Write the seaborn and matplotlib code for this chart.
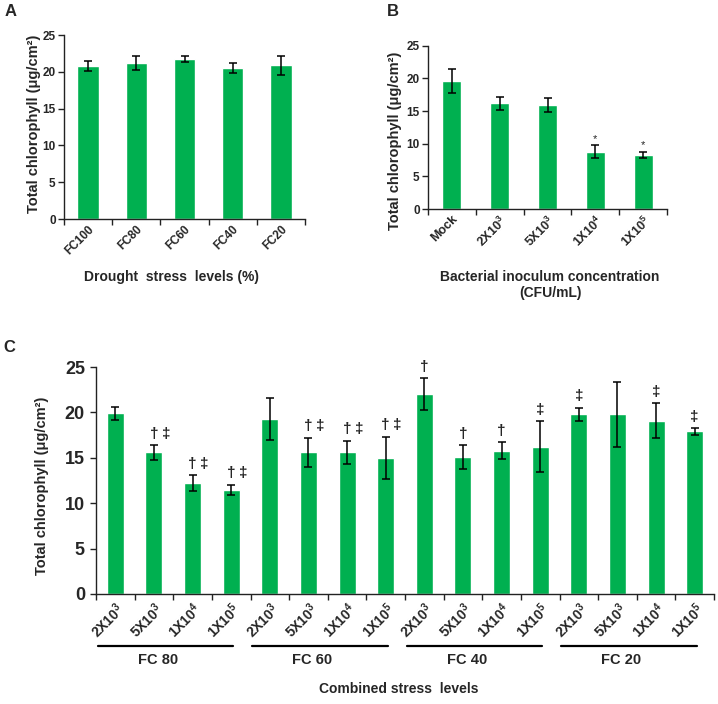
import numpy as np
import pandas as pd
import matplotlib
matplotlib.use("Agg")
import matplotlib.pyplot as plt
import seaborn as sns

# ---- data ----
drought_levels = ["FC100", "FC80", "FC60", "FC40", "FC20"]
drought_mean = [20.8, 21.2, 21.7, 20.5, 20.9]
drought_err = [0.7, 1.0, 0.4, 0.7, 1.3]

inoculum_levels = ["Mock", "2X10$^3$", "5X10$^3$", "1X10$^4$", "1X10$^5$"]
inoculum_mean = [19.6, 16.2, 15.9, 8.8, 8.3]
inoculum_err = [1.9, 1.0, 1.1, 1.0, 0.5]
inoculum_marks = ["", "", "", "*", "*"]

fc_groups = ["FC 80", "FC 60", "FC 40", "FC 20"]
conc_labels = ["2X10$^3$", "5X10$^3$", "1X10$^4$", "1X10$^5$"]
combined_mean = [19.9, 15.6, 12.2, 11.5,
                 19.3, 15.6, 15.6, 15.0,
                 22.0, 15.1, 15.8, 16.2,
                 19.8, 19.8, 19.1, 17.9]
combined_err = [0.7, 0.8, 0.9, 0.55,
                2.3, 1.6, 1.3, 2.3,
                1.75, 1.3, 0.9, 2.8,
                0.7, 3.6, 1.9, 0.35]
combined_marks = ["", "†‡", "†‡", "†‡",
                  "", "†‡", "†‡", "†‡",
                  "†", "†", "†", "‡",
                  "‡", "", "‡", "‡"]

GREEN = "#00B050"
W, H = 718, 704

sns.set_theme(style="ticks")
plt.rcParams["font.family"] = ["Liberation Sans", "DejaVu Sans"]
plt.rcParams["font.weight"] = "bold"
plt.rcParams["mathtext.default"] = "regular"
plt.rcParams["axes.edgecolor"] = "#222222"
plt.rcParams["axes.linewidth"] = 1.0

fig = plt.figure(figsize=(W / 100, H / 100), dpi=100)


def px(x, y):
    return x / W, 1 - y / H


def bar_panel(ax, labels, means, errs, width, tick_fs, ytick_fs):
    df = pd.DataFrame({"cat": labels, "val": means})
    sns.barplot(data=df, x="cat", y="val", color=GREEN, saturation=1,
                width=width, errorbar=None, ax=ax)
    ax.errorbar(np.arange(len(means)), means, yerr=errs, fmt="none",
                ecolor="black", elinewidth=1.1, capsize=3, capthick=1.1)
    n = len(means)
    ax.set_xlim(-0.5, n - 0.5)
    ax.set_ylim(0, 25)
    ax.set_yticks([0, 5, 10, 15, 20, 25])
    ax.set_xticks(np.arange(n + 1) - 0.5, minor=True)
    ax.tick_params(axis="x", which="major", length=0, pad=3)
    ax.tick_params(axis="x", which="minor", length=4, width=1, color="#222222")
    ax.tick_params(axis="y", length=4, width=1, color="#222222",
                   labelsize=ytick_fs, pad=2)
    ax.set_xticks(np.arange(n))
    ax.set_xticklabels(labels, rotation=45, ha="right",
                       rotation_mode="anchor", fontsize=tick_fs,
                       fontweight="bold")
    for t in ax.get_yticklabels():
        t.set_fontweight("bold")
    ax.set_xlabel("")
    ax.set_ylabel("")
    sns.despine(ax=ax)


ylab = "Total chlorophyll (μg/cm²)"

# ---- panel A ----
axA = fig.add_axes([64 / W, 1 - 219 / H, 241 / W, 184 / H])
bar_panel(axA, drought_levels, drought_mean, drought_err, 0.44, 8.5, 8.5)
fig.text(*px(34, 124), ylab, rotation=90, ha="center", va="center",
         fontsize=10.5, fontweight="bold")
fig.text(*px(172, 277), "Drought  stress  levels (%)", ha="center",
         va="center", fontsize=10, fontweight="bold")
fig.text(*px(11, 11), "A", ha="center", va="center", fontsize=12,
         fontweight="bold")

# ---- panel B ----
axB = fig.add_axes([428 / W, 1 - 209 / H, 239 / W, 163.3 / H])
bar_panel(axB, inoculum_levels, inoculum_mean, inoculum_err, 0.40, 9, 8.5)
for i, m in enumerate(inoculum_marks):
    if m:
        axB.text(i, inoculum_mean[i] + inoculum_err[i] + 0.2, m,
                 ha="center", va="bottom", fontsize=8, fontweight="normal")
fig.text(*px(395, 141), ylab, rotation=90, ha="center", va="center",
         fontsize=10.5, fontweight="bold")
fig.text(*px(550, 285), "Bacterial inoculum concentration\n(CFU/mL)",
         ha="center", va="center", fontsize=10, fontweight="bold",
         linespacing=1.15)
fig.text(*px(393, 11), "B", ha="center", va="center", fontsize=12,
         fontweight="bold")

# ---- panel C ----
axC = fig.add_axes([96 / W, 1 - 594 / H, 618 / W, 227 / H])
combined_keys = [f"{g}|{c}" for g in fc_groups for c in conc_labels]
dfC = pd.DataFrame({"key": combined_keys, "val": combined_mean})
sns.barplot(data=dfC, x="key", y="val", color=GREEN, saturation=1,
            width=0.44, errorbar=None, ax=axC)
xs = np.arange(len(combined_mean))
axC.errorbar(xs, combined_mean, yerr=combined_err, fmt="none",
             ecolor="black", elinewidth=1.1, capsize=3, capthick=1.1)
nC = len(combined_mean)
axC.set_xlim(-0.5, nC - 0.5)
axC.set_ylim(0, 25)
axC.set_yticks([0, 5, 10, 15, 20, 25])
axC.set_xticks(np.arange(nC + 1) - 0.5, minor=True)
axC.set_xticks(xs)
axC.set_xticklabels(conc_labels * len(fc_groups), rotation=45, ha="right",
                    rotation_mode="anchor", fontsize=10, fontweight="bold")
axC.tick_params(axis="x", which="major", length=0, pad=4)
axC.tick_params(axis="x", which="minor", length=4, width=1, color="#222222")
axC.tick_params(axis="y", length=4, width=1, color="#222222",
                labelsize=13, pad=4)
for t in axC.get_yticklabels():
    t.set_fontweight("bold")
axC.set_xlabel("")
axC.set_ylabel("")
sns.despine(ax=axC)

for i, m in enumerate(combined_marks):
    top = combined_mean[i] + combined_err[i] + 0.5
    for k, sym in enumerate(m):
        axC.text(i + 0.31 * k, top, sym, ha="center", va="bottom",
                 fontsize=11, fontweight="bold")

trans = axC.get_xaxis_transform()
for g, name in enumerate(fc_groups):
    start = 4 * g
    axC.plot([start - 0.45, start + 3.05], [-0.228, -0.228], color="black",
             lw=1.6, transform=trans, clip_on=False)
    axC.text(start + 1.1, -0.29, name, transform=trans, ha="center",
             va="center", fontsize=10.5, fontweight="bold")

fig.text(*px(42, 486), ylab, rotation=90, ha="center", va="center",
         fontsize=10.5, fontweight="bold")
fig.text(*px(399, 689), "Combined stress  levels", ha="center",
         va="center", fontsize=10, fontweight="bold")
fig.text(*px(9, 347), "C", ha="center", va="center", fontsize=12)

fig.savefig("out.png", dpi=100)
